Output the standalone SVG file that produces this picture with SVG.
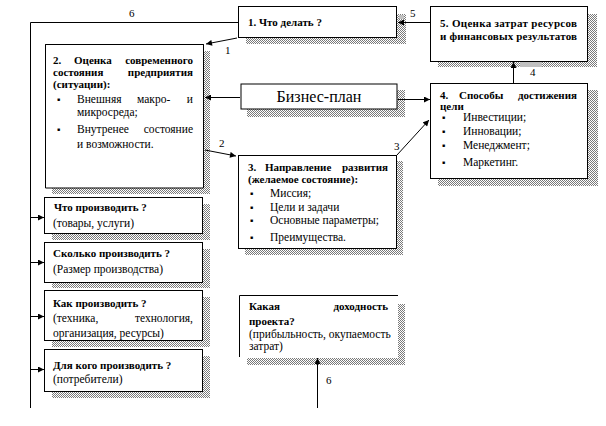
<svg xmlns="http://www.w3.org/2000/svg" width="606" height="426" viewBox="0 0 606 426" font-family="'Liberation Serif', 'Times New Roman', serif">
<style>
text{font-family:'Liberation Serif','Times New Roman',serif}
.b{font-size:11px;font-weight:bold;fill:#000}
.r{font-size:11.5px;fill:#000}
.u{font-size:5px;fill:#000}
.lb{font-size:11px;fill:#000}
.bx{fill:#fff;stroke:#000;stroke-width:1}
.sh{fill:url(#hatch)}
.ln{stroke:#000;stroke-width:1;fill:none}
</style>
<defs>
<pattern id="hatch" patternUnits="userSpaceOnUse" width="2" height="2">
<rect width="2" height="2" fill="#fff"/>
<rect width="1" height="1" fill="#7a7a7a"/>
<rect x="1" y="1" width="1" height="1" fill="#7a7a7a"/>
</pattern>
<marker id="ah" viewBox="0 0 10 10" refX="10" refY="5" markerWidth="7" markerHeight="6" orient="auto" markerUnits="userSpaceOnUse">
<path d="M0,0 L10,5 L0,10 z" fill="#000"/>
</marker>
</defs>
<rect width="606" height="426" fill="#fff"/>

<g id="n1">
<rect class="sh" x="246" y="14" width="160" height="30"/>
<rect class="bx" x="238.5" y="6.5" width="158" height="31"/>
<text class="b" x="248" y="26">1. Что делать ?</text>
</g>

<g id="n5">
<rect class="sh" x="438" y="14" width="159" height="53"/>
<rect class="bx" x="430.5" y="6.5" width="157" height="55"/>
<text class="b" x="440" y="27" textLength="137">5. Оценка затрат ресурсов</text>
<text class="b" x="440" y="40" textLength="137">и финансовых результатов</text>
<rect x="520" y="62" width="22" height="5" fill="#c0c0c0"/>
</g>

<g id="n2">
<rect class="sh" x="52" y="51" width="158" height="143"/>
<path class="bx" d="M45.5,188 V44.5 H203.5 V188 Z" stroke="none"/>
<path class="ln" d="M45.5,188 V44.5 H203.5 V188"/>
<text class="b" x="53" y="64">2.</text>
<text class="b" x="74" y="64">Оценка</text>
<text class="b" x="193" y="64" text-anchor="end">современного</text>
<text class="b" x="53" y="76">состояния</text>
<text class="b" x="193" y="76" text-anchor="end">предприятия</text>
<text class="b" x="53" y="88">(ситуации):</text>
<text class="u" x="57" y="101">■</text>
<text class="r" x="77" y="103">Внешняя</text>
<text class="r" x="137" y="103">макро-</text>
<text class="r" x="193" y="103" text-anchor="end">и</text>
<text class="r" x="77" y="116">микросреда;</text>
<text class="u" x="57" y="131">■</text>
<text class="r" x="77" y="133">Внутренее</text>
<text class="r" x="193" y="133" text-anchor="end">состояние</text>
<text class="r" x="77" y="148">и возможности.</text>
</g>

<g id="nbp">
<rect class="sh" x="247" y="90" width="158" height="27"/>
<rect class="bx" x="241" y="84" width="156" height="25" stroke-width="2"/>
<text class="r" x="319" y="102" text-anchor="middle" style="font-size:16px">Бизнес-план</text>
</g>

<g id="n4">
<rect class="sh" x="438" y="90" width="160" height="96"/>
<rect class="bx" x="430.5" y="83.5" width="157" height="95"/>
<text class="b" x="440" y="99">4.</text>
<text class="b" x="459" y="99">Способы</text>
<text class="b" x="577" y="99" text-anchor="end">достижения</text>
<text class="b" x="440" y="110">цели</text>
<text class="u" x="442" y="119">■</text>
<text class="r" x="463" y="121">Инвестиции;</text>
<text class="u" x="442" y="133">■</text>
<text class="r" x="463" y="135">Инновации;</text>
<text class="u" x="442" y="147">■</text>
<text class="r" x="463" y="149">Менеджмент;</text>
<text class="u" x="442" y="164">■</text>
<text class="r" x="463" y="166">Маркетинг.</text>
</g>

<g id="n3">
<rect class="sh" x="245" y="161" width="158" height="94"/>
<rect class="bx" x="238.5" y="155.5" width="158" height="93"/>
<text class="b" x="248" y="171">3.</text>
<text class="b" x="265" y="171">Направление</text>
<text class="b" x="388" y="171" text-anchor="end">развития</text>
<text class="b" x="248" y="183">(желаемое состояние):</text>
<text class="u" x="250" y="195">■</text>
<text class="r" x="270" y="197">Миссия;</text>
<text class="u" x="250" y="209">■</text>
<text class="r" x="270" y="211">Цели и задачи</text>
<text class="u" x="250" y="222">■</text>
<text class="r" x="270" y="224">Основные параметры;</text>
<text class="u" x="250" y="239">■</text>
<text class="r" x="270" y="241">Преимущества.</text>
</g>

<g id="n6">
<rect class="sh" x="52" y="204" width="158" height="36"/>
<rect class="bx" x="44.5" y="197.5" width="158" height="36"/>
<text class="b" x="54" y="211">Что производить ?</text>
<text class="r" x="53" y="227">(товары, услуги)</text>
</g>

<g id="n7">
<rect class="sh" x="52" y="249" width="158" height="39"/>
<rect class="bx" x="44.5" y="242.5" width="158" height="40"/>
<text class="b" x="53" y="257">Сколько производить ?</text>
<text class="r" x="53" y="273">(Размер производства)</text>
</g>

<g id="n8">
<rect class="sh" x="52" y="297" width="158" height="50"/>
<rect class="bx" x="44.5" y="290.5" width="158" height="50"/>
<text class="b" x="53" y="307">Как производить ?</text>
<text class="r" x="53" y="322">(техника,</text>
<text class="r" x="193" y="322" text-anchor="end">технология,</text>
<text class="r" x="53" y="337">организация, ресурсы)</text>
</g>

<g id="n9">
<rect class="sh" x="52" y="356" width="158" height="42"/>
<rect class="bx" x="44.5" y="349.5" width="158" height="42"/>
<text class="b" x="53" y="369">Для кого производить ?</text>
<text class="r" x="53" y="383">(потребители)</text>
</g>

<g id="n10">
<rect class="sh" x="247" y="304" width="158" height="61"/>
<rect x="239" y="295" width="159" height="63" fill="#fff"/>
<path class="ln" d="M239.5,357 V295.5 H398"/>
<text class="b" x="249" y="310">Какая</text>
<text class="b" x="388" y="310" text-anchor="end">доходность</text>
<text class="b" x="249" y="325">проекта?</text>
<text class="r" x="249" y="338">(прибыльность, окупаемость</text>
<text class="r" x="249" y="350">затрат)</text>
</g>

<g id="connectors">
<path class="ln" d="M30.5,408 V22.5 H238"/>
<text class="lb" x="129" y="17">6</text>
<line class="ln" x1="30" y1="217.5" x2="44" y2="217.5" marker-end="url(#ah)"/>
<line class="ln" x1="30" y1="262.5" x2="44" y2="262.5" marker-end="url(#ah)"/>
<line class="ln" x1="30" y1="316.5" x2="44" y2="316.5" marker-end="url(#ah)"/>
<line class="ln" x1="30" y1="369.5" x2="44" y2="369.5" marker-end="url(#ah)"/>
<line class="ln" x1="237" y1="38" x2="206" y2="44" marker-end="url(#ah)"/>
<text class="lb" x="225" y="54">1</text>
<line class="ln" x1="240" y1="97.5" x2="205" y2="97.5" marker-end="url(#ah)"/>
<line class="ln" x1="205" y1="150" x2="236" y2="156" marker-end="url(#ah)"/>
<text class="lb" x="219" y="147">2</text>
<line class="ln" x1="398" y1="99.5" x2="430" y2="99.5" marker-end="url(#ah)"/>
<line class="ln" x1="397" y1="155" x2="429" y2="120" marker-end="url(#ah)"/>
<text class="lb" x="394" y="150">3</text>
<rect x="399" y="15" width="5" height="4" fill="#c0c0c0"/>
<line class="ln" x1="430" y1="22.5" x2="398" y2="22.5" marker-end="url(#ah)"/>
<text class="lb" x="410" y="17">5</text>
<line class="ln" x1="513.5" y1="83" x2="513.5" y2="62" marker-end="url(#ah)"/>
<text class="lb" x="530" y="76">4</text>
<line class="ln" x1="317.5" y1="408" x2="317.5" y2="358" marker-end="url(#ah)"/>
<text class="lb" x="326" y="384">6</text>
</g>
</svg>
